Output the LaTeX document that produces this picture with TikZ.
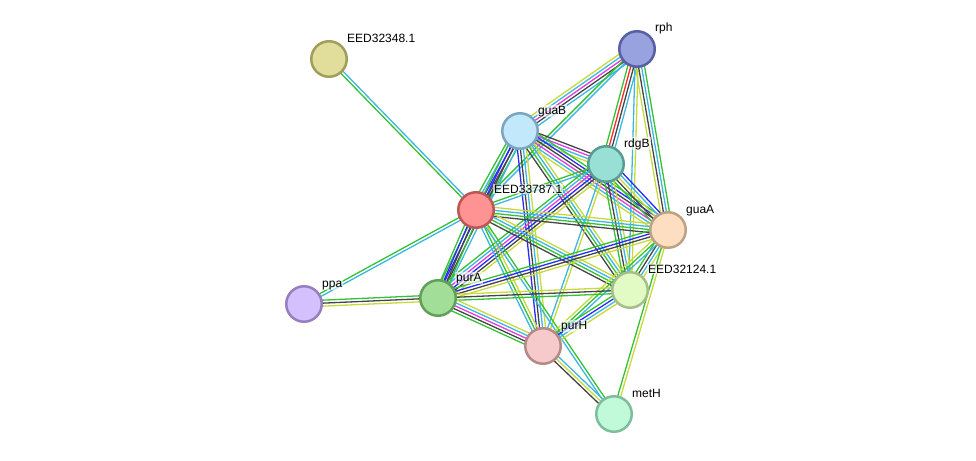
\documentclass[tikz,border=0pt]{standalone}
\usepackage{fontspec}
\setmainfont{Liberation Sans}
\usepackage{tikz}
\usetikzlibrary{calc,backgrounds}
% evidence channel colours
\definecolor{nb}{HTML}{35C135}
\definecolor{fu}{HTML}{FF2A2A}
\definecolor{co}{HTML}{2A2AFF}
\definecolor{ce}{HTML}{454545}
\definecolor{ex}{HTML}{E03CE0}
\definecolor{db}{HTML}{3CB8E0}
\definecolor{tm}{HTML}{C6DA3C}
\tikzset{
  prot/.style={circle,line width=2.5pt,minimum size=35.5pt,inner sep=0pt},
  lab/.style={anchor=base west,inner sep=1pt,fill=white,fill opacity=0.6,text opacity=1,
    font=\fontsize{12}{14}\selectfont},
}

\begin{document}
\begin{tikzpicture}[x=1pt,y=-1pt]

  \useasboundingbox (0,0) rectangle (976,460);

  % proteins
  \node[prot,fill={rgb,255:red,224;green,222;blue,154},draw={rgb,255:red,160;green,158;blue,90}] (n32348) at (329,59) {};
  \node[prot,fill={rgb,255:red,152;green,162;blue,222},draw={rgb,255:red,86;green,96;blue,162}] (rph) at (637,49) {};
  \node[prot,fill={rgb,255:red,194;green,232;blue,252},draw={rgb,255:red,122;green,166;blue,192}] (guaB) at (520,131) {};
  \node[prot,fill={rgb,255:red,152;green,224;blue,214},draw={rgb,255:red,88;green,156;blue,146}] (rdgB) at (606,164) {};
  \node[prot,fill={rgb,255:red,255;green,146;blue,146},draw={rgb,255:red,190;green,86;blue,86}] (n33787) at (476,210) {};
  \node[prot,fill={rgb,255:red,253;green,222;blue,192},draw={rgb,255:red,190;green,160;blue,130}] (guaA) at (668,230) {};
  \node[prot,fill={rgb,255:red,212;green,192;blue,252},draw={rgb,255:red,150;green,126;blue,192}] (ppa) at (304,304) {};
  \node[prot,fill={rgb,255:red,162;green,222;blue,152},draw={rgb,255:red,96;green,160;blue,90}] (purA) at (438,298) {};
  \node[prot,fill={rgb,255:red,226;green,250;blue,196},draw={rgb,255:red,166;green,190;blue,136}] (n32124) at (630,290) {};
  \node[prot,fill={rgb,255:red,246;green,202;blue,202},draw={rgb,255:red,182;green,136;blue,136}] (purH) at (543,346) {};
  \node[prot,fill={rgb,255:red,192;green,250;blue,216},draw={rgb,255:red,126;green,190;blue,156}] (metH) at (614,414) {};

  % labels
  \node[lab] (n32348L) at (346,42) {EED32348.1};
  \node[lab] (rphL) at (654,32) {rph};
  \node[lab] (guaBL) at (537,114) {guaB};
  \node[lab] (rdgBL) at (623,147) {rdgB};
  \node[lab] (n33787L) at (493,193) {EED33787.1};
  \node[lab] (guaAL) at (685,213) {guaA};
  \node[lab] (ppaL) at (321,287) {ppa};
  \node[lab] (purAL) at (455,281) {purA};
  \node[lab] (n32124L) at (647,273) {EED32124.1};
  \node[lab] (purHL) at (560,329) {purH};
  \node[lab] (metHL) at (631,397) {metH};

  % interactions, one line per evidence channel
  \begin{scope}[on background layer]
  \foreach \a/\b/\n/\cols in {
      n32348/n33787/2/{nb,db}, ppa/n33787/2/{db,nb}, ppa/purA/3/{tm,ce,nb},
      rph/guaB/5/{tm,db,ex,ce,db}, rph/n33787/2/{nb,db}, rph/rdgB/4/{nb,fu,ce,db},
      rph/n32124/2/{db,tm}, rph/guaA/4/{tm,ce,db,nb},
      guaB/rdgB/4/{tm,db,ex,ce}, guaB/guaA/6/{tm,db,ex,ce,co,nb},
      guaB/n33787/5/{nb,db,co,ce,nb}, guaB/purA/4/{nb,co,ce,db},
      guaB/purH/4/{co,ce,db,tm}, guaB/n32124/4/{ce,nb,db,tm},
      rdgB/n33787/2/{nb,db}, rdgB/purA/6/{nb,db,ex,co,ce,tm},
      rdgB/guaA/5/{nb,ce,tm,db,co}, rdgB/n32124/4/{nb,ce,db,tm}, rdgB/purH/2/{db,tm},
      n33787/guaA/4/{ce,nb,db,tm}, n33787/n32124/4/{ce,nb,db,tm},
      n33787/purA/4/{nb,co,ce,nb}, n33787/purH/3/{db,nb,tm}, n33787/metH/2/{db,nb},
      guaA/purA/4/{nb,co,ce,tm}, guaA/n32124/4/{nb,ce,db,tm},
      guaA/purH/3/{tm,nb,db}, guaA/metH/2/{nb,tm},
      purA/n32124/3/{nb,ce,tm}, purA/purH/5/{nb,ce,ex,db,tm},
      n32124/purH/4/{nb,co,db,tm}, purH/metH/3/{ce,tm,db}}{
    \foreach \c [count=\i] in \cols {
      \pgfmathsetmacro\off{(\i-(\n+1)/2)*3.0}
      \draw[line width=1.3pt,\c] ($(\a)!\off pt!90:(\b)$) -- ($(\b)!\off pt!-90:(\a)$);
    }
  }
  \end{scope}

\end{tikzpicture}
\end{document}
